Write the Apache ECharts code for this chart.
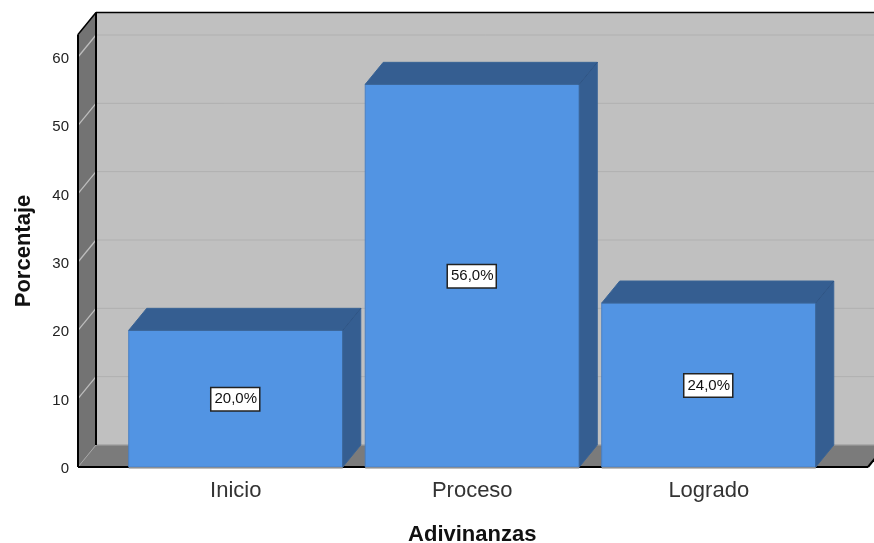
<!DOCTYPE html>
<html><head><meta charset="utf-8">
<style>html,body{margin:0;padding:0;background:#fff}#c{width:874px;height:543px}</style>
<script src="https://cdn.jsdelivr.net/npm/echarts@6/dist/echarts.min.js"></script>
</head><body><div id="c"></div>
<script>
const categories = ['Inicio', 'Proceso', 'Logrado'];
const percentages = [20, 56, 24];
const gridValues = [10, 20, 30, 40, 50, 60];
const wallTopValue = 63.3;
const axisMax = 60;
const xName = 'Adivinanzas';
const yName = 'Porcentaje';

const DEPTH = [18, -22], PAD_L = 39.5, PAD_R = 41, BAR_RATIO = 0.905;
const shift = (p) => [p[0] + DEPTH[0], p[1] + DEPTH[1]];
const poly = (points, fill, z2) => ({type:'polygon', z2:z2||0, shape:{points}, style:{fill, stroke:fill, lineWidth:0.5}});
const line = (a, b, stroke, lineWidth, z2) => ({type:'line', z2:z2||1, shape:{x1:a[0],y1:a[1],x2:b[0],y2:b[1]}, style:{stroke, lineWidth}});

function renderWalls(params, api) {
  const band = api.size([1, 0])[0];
  const x0 = api.coord([0, 0])[0] - band / 2 - PAD_L;
  const x1 = api.coord([categories.length - 1, 0])[0] + band / 2 + PAD_R;
  const yAt = (v) => api.coord([0, v])[1];
  const fl = [x0, yAt(0)], fr = [x1, yAt(0)], tl = [x0, yAt(wallTopValue)], tr = [x1, yAt(wallTopValue)];
  const c = [
    poly([shift(tl), shift(tr), shift(fr), shift(fl)], '#c0c0c0'),
    poly([fl, fr, shift(fr), shift(fl)], '#7b7b7b'),
    poly([tl, shift(tl), shift(fl), fl], '#737373')
  ];
  gridValues.forEach(v => {
    const a = [x0, yAt(v)];
    c.push(line(a, shift(a), '#bdbdbd', 1.3));
    c.push(line(shift(a), shift([x1, yAt(v)]), '#b0b0b0', 1));
  });
  c.push(line(fl, shift(fl), '#a8a8a8', 1));
  c.push(line(shift(fl), shift(fr), '#a6a6a6', 1));
  c.push(line(shift(tl), shift(tr), '#000', 1.5, 3));
  c.push(line(shift(tl), shift(fl), '#000', 2, 3));
  c.push(line(tl, shift(tl), '#000', 1.5, 3));
  c.push(line(tl, fl, '#000', 2, 3));
  c.push(line(fl, fr, '#000', 2, 3));
  c.push(line(fr, shift(fr), '#000', 2, 3));
  return {type:'group', children:c};
}

function renderBar(params, api) {
  const band = api.size([1, 0])[0], w = band * BAR_RATIO;
  const base = api.coord([api.value(0), 0]), top = api.coord([api.value(0), api.value(1)]);
  const l = base[0] - w / 2, r = base[0] + w / 2;
  const tl = [l, top[1]], tr = [r, top[1]], bl = [l, base[1]], br = [r, base[1]];
  const text = api.value(1).toFixed(1).replace('.', ',') + '%';
  return {type:'group', children:[
    {type:'polygon', shape:{points:[bl, tl, tr, br]}, style:{fill:'#5294e3', stroke:'#4a80c4', lineWidth:1}},
    {type:'polygon', shape:{points:[tl, shift(tl), shift(tr), tr]}, style:{fill:'#355e91', stroke:'#3a6496', lineWidth:1}},
    {type:'polygon', shape:{points:[br, tr, shift(tr), shift(br)]}, style:{fill:'#355e91', stroke:'#3a6496', lineWidth:1}},
    line(tr, shift(tr), '#2f5484', 1, 2),
    line([l, base[1] + 1], [r, base[1] + 1], '#a9a9a9', 1.5, 4),
    {type:'text', z2:5, x:base[0] - 0.5, y:(base[1] + top[1]) / 2 + 0.5, style:{
      text, fill:'#111', font:'15px "Liberation Sans", sans-serif', align:'center', verticalAlign:'middle',
      backgroundColor:'#fff', borderColor:'#222', borderWidth:1.5, padding:[4, 2, 3, 3]
    }}
  ]};
}

const chart = echarts.init(document.getElementById('c'), null, {renderer:'canvas'});
chart.setOption({
  animation:false,
  backgroundColor:'#fff',
  grid:{left:117.5, right:47, top:57, bottom:76, outerBoundsMode:'none'},
  xAxis:{
    type:'category', data:categories,
    axisLine:{show:false}, axisTick:{show:false}, splitLine:{show:false},
    axisLabel:{fontSize:22, color:'#333', margin:13, fontFamily:'"Liberation Sans", sans-serif'},
    name:xName, nameLocation:'middle', nameGap:57,
    nameTextStyle:{fontSize:22, fontWeight:'bold', color:'#111', fontFamily:'"Liberation Sans", sans-serif'}
  },
  yAxis:{
    type:'value', min:0, max:axisMax, interval:10, offset:PAD_L,
    axisLine:{show:false}, axisTick:{show:false}, splitLine:{show:false},
    axisLabel:{margin:9, formatter:'{t|{value}}', rich:{t:{fontSize:15, color:'#222', padding:[4,0,0,0], fontFamily:'"Liberation Sans", sans-serif'}}},
    name:yName, nameLocation:'middle', nameGap:43,
    nameTextStyle:{fontSize:22, fontWeight:'bold', color:'#111', padding:[0,0,0,22], fontFamily:'"Liberation Sans", sans-serif'}
  },
  series:[
    {type:'custom', z:1, silent:true, clip:false, renderItem:renderWalls, data:[[0, 0]], encode:{x:0, y:1}},
    {type:'custom', z:2, silent:true, clip:false, renderItem:renderBar, data:percentages.map((v, i) => [i, v]), encode:{x:0, y:1}}
  ]
});
</script></body></html>
